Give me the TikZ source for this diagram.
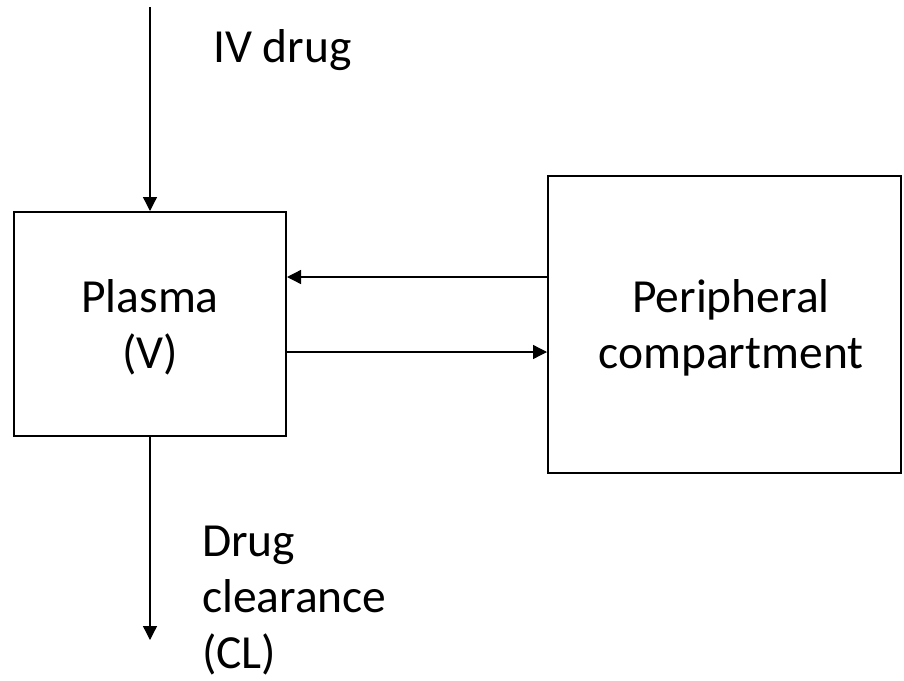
\documentclass[tikz,border=0pt]{standalone}
\usepackage{fontspec}
\setmainfont{Carlito}
\usetikzlibrary{arrows.meta}
\begin{document}
\begin{tikzpicture}[x=1pt,y=-1pt,
 box/.style={draw, line width=2pt, inner sep=0pt},
 lbl/.style={font=\fontsize{47.5}{56}\selectfont, inner sep=0pt, align=left},
 boxtxt/.style={lbl, align=center, anchor=base},
 arr/.style={line width=1.3pt, -{Triangle[length=14pt,width=14pt]}}]
\useasboundingbox (0,0) rectangle (904,680);
\node[box, minimum width=272pt, minimum height=224pt] (plasma) at (150,324) {};
\node[box, minimum width=353pt, minimum height=297pt] (periph) at (724.5,324.5) {};
\node[boxtxt] (plasmatxt) at (150,368) {Plasma\\(V)};
\node[boxtxt] (periphtxt) at (731,368) {Peripheral\\compartment};
\coordinate (ivstart) at (150,7);
\coordinate (clend) at (150,640);
\coordinate (yup) at (0,277);
\coordinate (ydown) at (0,352);
\draw[arr] (ivstart) -- (plasma.north);
\draw[arr] (plasma.south) -- (clend);
\draw[arr] (periph.west |- yup) -- (plasma.east |- yup);
\draw[arr] (plasma.east |- ydown) -- (periph.west |- ydown);
\node[lbl, anchor=base west] (iv) at (213,62) {IV drug};
\node[lbl, anchor=base west] (cl) at (202,668) {Drug\\clearance\\(CL)};
\end{tikzpicture}
\end{document}
